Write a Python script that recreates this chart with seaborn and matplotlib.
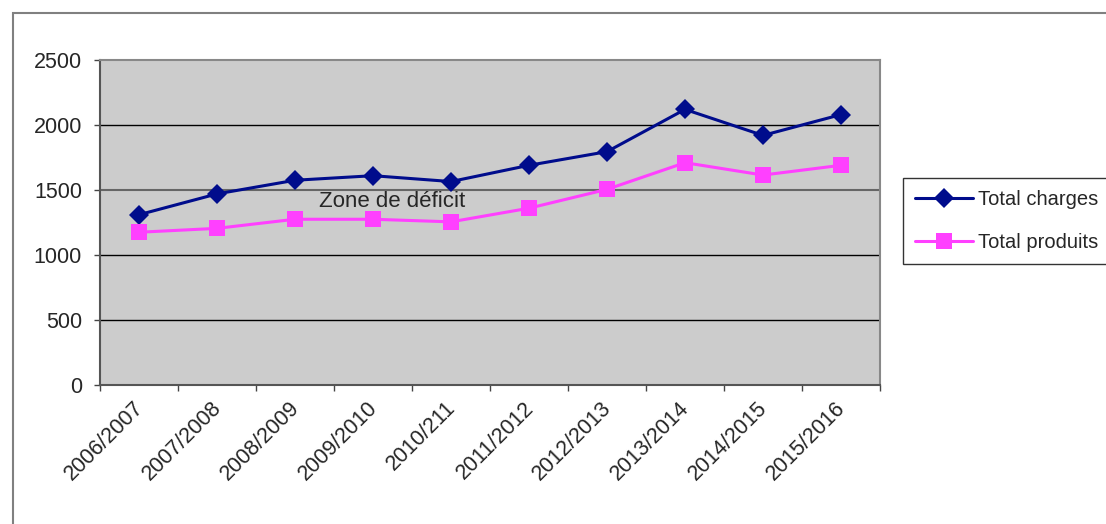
import numpy as np
import pandas as pd
import matplotlib
matplotlib.use("Agg")
import matplotlib.pyplot as plt
import matplotlib.transforms as mtransforms
from matplotlib.patches import Rectangle
from matplotlib.ticker import FixedLocator
import seaborn as sns

# Data
annees = ["2006/2007", "2007/2008", "2008/2009", "2009/2010", "2010/211",
          "2011/2012", "2012/2013", "2013/2014", "2014/2015", "2015/2016"]
total_charges = [1310, 1470, 1575, 1610, 1565, 1690, 1795, 2120, 1920, 2080]
total_produits = [1175, 1205, 1275, 1275, 1255, 1360, 1505, 1710, 1615, 1690]

df = pd.DataFrame({
    "idx": list(range(len(annees))) * 2,
    "valeur": total_charges + total_produits,
    "serie": ["Total charges"] * len(annees) + ["Total produits"] * len(annees),
})

sns.set_style("white")
plt.rcParams["font.family"] = ["Liberation Sans", "DejaVu Sans"]

fig = plt.figure(figsize=(11.06, 5.24), dpi=100)
ax = fig.add_axes([100 / 1106, 139 / 524, 780 / 1106, 325 / 524])
ax.set_facecolor("#cccccc")

couleurs = {"Total charges": "#000c8c", "Total produits": "#ff40ff"}
sns.lineplot(data=df, x="idx", y="valeur", hue="serie", style="serie",
             palette=couleurs, markers={"Total charges": "D", "Total produits": "s"},
             dashes=False, linewidth=2.2, markersize=10, markeredgewidth=0,
             ax=ax, zorder=3)
# squares a bit bigger than diamonds
for line in ax.get_lines():
    if line.get_marker() == "s":
        line.set_markersize(11)

ax.set_xlim(-0.5, len(annees) - 0.5)
ax.set_ylim(0, 2500)
ax.set_yticks([0, 500, 1000, 1500, 2000, 2500])
for y in [500, 1000, 2000]:
    ax.axhline(y, color="black", lw=1, zorder=1)
ax.axhline(1500, color="#666666", lw=1.5, zorder=1)

ax.set_xticks(range(len(annees)))
ax.set_xticklabels(annees, rotation=45, ha="right", rotation_mode="anchor")
ax.xaxis.set_minor_locator(FixedLocator(np.arange(-0.5, len(annees), 1)))
ax.tick_params(axis="x", which="major", length=0, pad=9, labelsize=15.5)
ax.tick_params(axis="x", which="minor", length=4.5, width=1, color="#444444", bottom=True)
ax.tick_params(axis="y", length=4, width=1, color="#444444", left=True, labelsize=15.5, pad=9)

# shift the rotated labels a few pixels to the left, as in the original
decal = mtransforms.ScaledTranslation(-6 / 100, 0, fig.dpi_scale_trans)
for lab in ax.get_xticklabels():
    lab.set_transform(lab.get_transform() + decal)

ax.set_xlabel("")
ax.set_ylabel("")
for s in ["left", "bottom"]:
    ax.spines[s].set_color("#555555")
    ax.spines[s].set_linewidth(1.5)
for s in ["top", "right"]:
    ax.spines[s].set_color("#888888")
    ax.spines[s].set_linewidth(1.5)

ax.text(3.24, 1410, "Zone de déficit", fontsize=16, ha="center", va="center", zorder=4)

handles, labels = ax.get_legend_handles_labels()
leg = fig.legend(handles, labels, loc="upper left",
                 bbox_to_anchor=(903 / 1106, 1 - 178 / 524),
                 fontsize=14.5, frameon=True, fancybox=False, edgecolor="black",
                 handlelength=2.9, handletextpad=0.2, labelspacing=1.2,
                 borderpad=0.6, borderaxespad=0)
leg.get_frame().set_linewidth(1)
ax.get_legend().remove()

# outer chart border
fig.patches.append(Rectangle((13 / 1106, -0.05), 1.1, 1.05 - 13 / 524,
                             transform=fig.transFigure, fill=False,
                             edgecolor="#808080", linewidth=1.5))

fig.savefig("out.png", dpi=100)
